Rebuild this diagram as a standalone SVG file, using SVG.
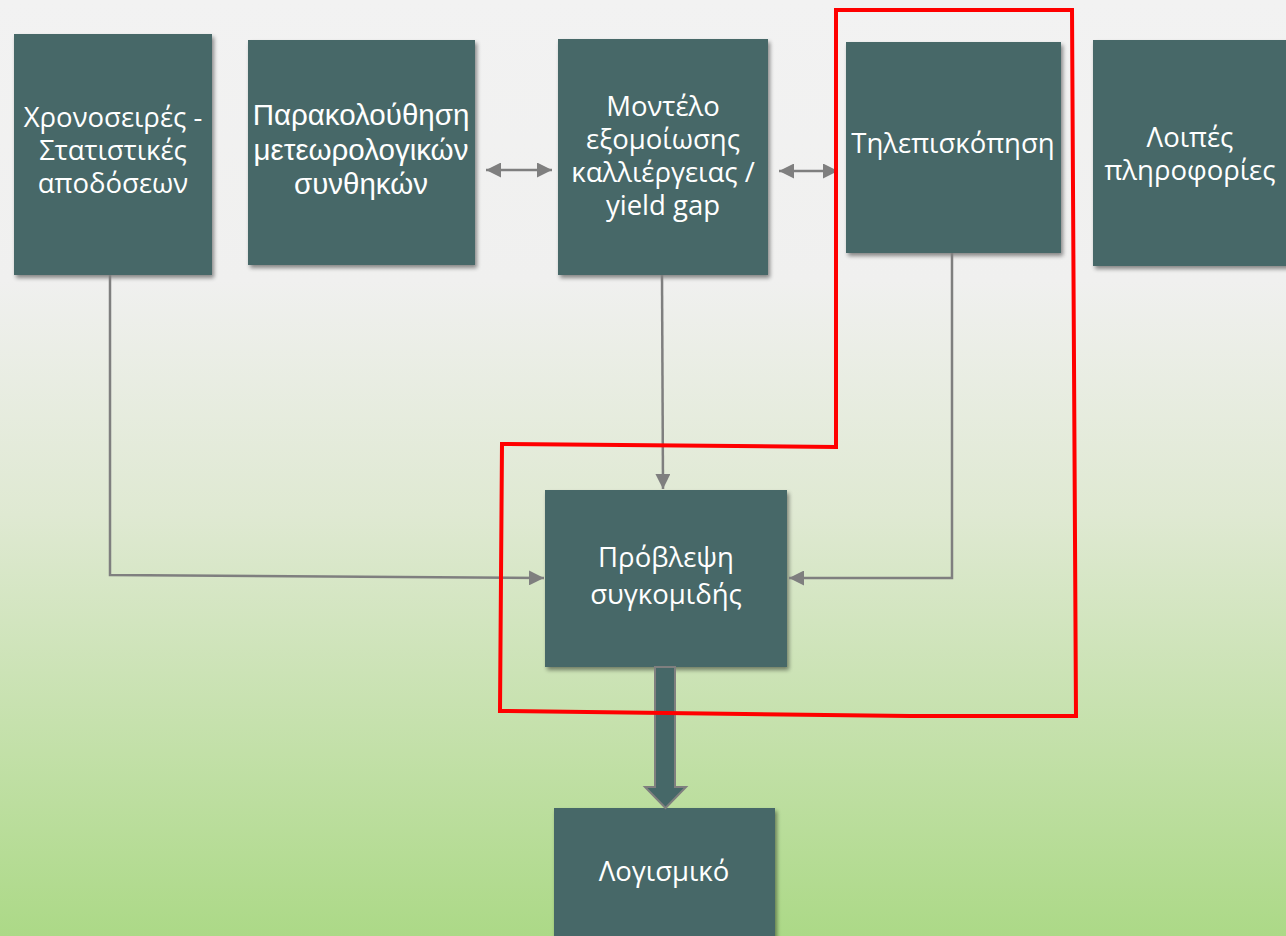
<svg xmlns="http://www.w3.org/2000/svg" width="1286" height="936" viewBox="0 0 1286 936">
<defs>
<linearGradient id="bg" x1="0" y1="0" x2="0" y2="1">
<stop offset="0" stop-color="#f2f2f2"/>
<stop offset="0.3" stop-color="#f0f0ef"/>
<stop offset="0.55" stop-color="#dfe9d2"/>
<stop offset="1" stop-color="#acd987"/>
</linearGradient>
<filter id="sh" x="-10%" y="-10%" width="130%" height="130%">
<feGaussianBlur in="SourceAlpha" stdDeviation="2"/>
<feOffset dx="2" dy="3"/>
<feComponentTransfer><feFuncA type="linear" slope="0.45"/></feComponentTransfer>
<feMerge><feMergeNode/><feMergeNode in="SourceGraphic"/></feMerge>
</filter>
<marker id="ah" viewBox="0 0 10 10" refX="10" refY="5" markerWidth="6" markerHeight="6" markerUnits="strokeWidth" orient="auto-start-reverse">
<path d="M0,0 L10,5 L0,10 Z" fill="#7f7f7f"/>
</marker>
</defs>
<style>
.box{fill:#466868;filter:url(#sh)}
.t{font-family:"Open Sans","Noto Sans",sans-serif;font-size:27.5px;fill:#ffffff;text-anchor:middle}
.a{font-family:"Liberation Sans",Arial,sans-serif;font-size:29.5px}
.c{stroke:#7f7f7f;stroke-width:2.5;fill:none}
</style>
<rect width="1286" height="936" fill="url(#bg)"/>
<g id="n1"><rect class="box" x="14" y="34" width="198" height="241"/>
<text class="t" x="113" y="127">Χρονοσειρές -</text>
<text class="t" x="113" y="160">Στατιστικές</text>
<text class="t" x="113" y="193">αποδόσεων</text></g>
<g id="n2"><rect class="box" x="248" y="40" width="227" height="225"/>
<text class="t a" x="361" y="125">Παρακολούθηση</text>
<text class="t a" x="361" y="160">μετεωρολογικών</text>
<text class="t a" x="361" y="194">συνθηκών</text></g>
<g id="n3"><rect class="box" x="558" y="39" width="210" height="236"/>
<text class="t" x="663" y="116">Μοντέλο</text>
<text class="t" x="663" y="149">εξομοίωσης</text>
<text class="t" x="663" y="182">καλλιέργειας /</text>
<text class="t" x="663" y="215">yield gap</text></g>
<g id="n4"><rect class="box" x="846" y="42" width="215" height="211"/>
<text class="t" x="953" y="153">Τηλεπισκόπηση</text></g>
<g id="n5"><rect class="box" x="1093" y="40" width="200" height="226"/>
<text class="t" x="1190" y="147">Λοιπές</text>
<text class="t" x="1190" y="180">πληροφορίες</text></g>
<g id="n6"><rect class="box" x="545" y="490" width="242" height="177"/>
<text class="t" x="666" y="567">Πρόβλεψη</text>
<text class="t" x="666" y="604">συγκομιδής</text></g>
<g id="n7"><rect class="box" x="554" y="808" width="221" height="140"/>
<text class="t" x="664" y="881">Λογισμικό</text></g>
<g id="connectors">
<line class="c" x1="486" y1="170" x2="552" y2="170" marker-start="url(#ah)" marker-end="url(#ah)"/>
<line class="c" x1="779" y1="171" x2="838" y2="171" marker-start="url(#ah)" marker-end="url(#ah)"/>
<polyline class="c" points="110,275 110,575 544,578" marker-end="url(#ah)"/>
<line class="c" x1="662" y1="275" x2="663" y2="489" marker-end="url(#ah)"/>
<polyline class="c" points="952,253 952,578 789,578" marker-end="url(#ah)"/>
<path d="M655,667 L675,667 L675,787 L686,787 L665.5,808 L645,787 L655,787 Z" fill="#466868" stroke="#7f7f7f" stroke-width="2"/>
</g>
<polygon points="836,10 1072,10 1076,716 910,716 500,711 502,444 836,447" fill="none" stroke="#ff0000" stroke-width="4"/>
</svg>
